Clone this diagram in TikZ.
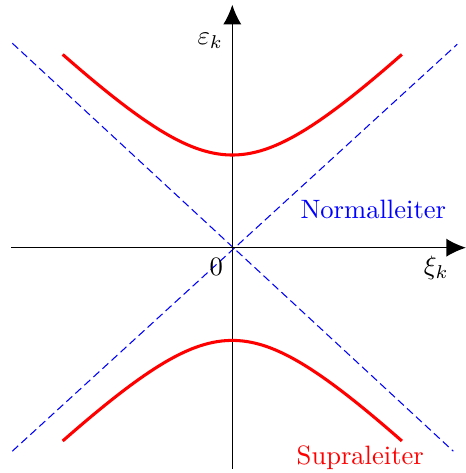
\documentclass[tikz,border=0pt]{standalone}
\usepackage{amsmath,amssymb}
\usetikzlibrary{positioning,calc,arrows.meta}
\definecolor{BandRed}{RGB}{255,0,0}
\definecolor{LineBlue}{RGB}{0,0,255}

\begin{document}
\begin{tikzpicture}[
    x=0.1323cm, y=0.1323cm,
    >={Latex[length=2.6mm,width=2.4mm]},
    axis/.style={
        ->,
        line width=0.5pt
    },
    band/.style={
        draw=BandRed,
        line width=1.15pt
    },
    asym/.style={
        draw=LineBlue,
        line width=0.4pt,
        dash pattern=on 3pt off 1.6pt
    }
]

\useasboundingbox (-23.23,-22.53) rectangle (23.37,24.77);

\coordinate (o) at (0,0);
\coordinate (xl) at (-22.1,0);
\coordinate (xr) at (23.37,0);
\coordinate (yb) at (0,-22.1);
\coordinate (yt) at (0,24.3);

\coordinate (ul) at (-22.0,20.45);
\coordinate (ur) at (22.5,20.35);
\coordinate (ll) at (-22.0,-20.35);
\coordinate (lr) at (22.1,-20.35);

% Asymptoten
\draw[asym] (ul) -- (lr);
\draw[asym] (ll) -- (ur);

% Achsen
\draw[axis] (xl) -- (xr);
\draw[axis] (yb) -- (yt);

% Baender
\draw[band] plot[domain=-16.96:16.96, samples=80, smooth] (\x,{sqrt(\x*\x+85.93)});
\draw[band] plot[domain=-16.96:16.96, samples=80, smooth] (\x,{-sqrt(\x*\x+85.93)});

\node (eps) at (-2.2,20.7) {$\varepsilon_k$};
\node (xi) at (20.4,-2.0) {$\xi_k$};
\node (zero) at (-1.6,-1.9) {$0$};
\node[text=LineBlue] (normal) at (14.1,3.8) {Normalleiter};
\node[text=BandRed] (supra) at (12.8,-21.0) {Supraleiter};

\end{tikzpicture}
\end{document}
